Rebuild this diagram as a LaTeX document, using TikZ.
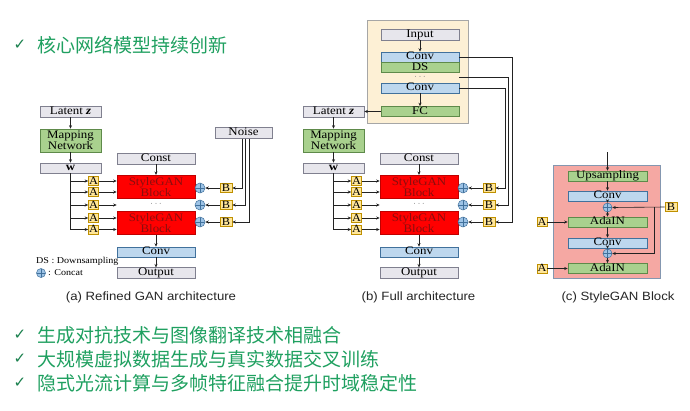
\documentclass[tikz,border=0pt]{standalone}
\usepackage{fontspec}
\setmainfont{Liberation Serif}
\newfontfamily\boxfont[FakeStretch=1.12]{Liberation Serif}
\newfontfamily\capfont[FakeStretch=1.1]{Liberation Sans}
\newfontfamily\cjkfont{Noto Sans CJK SC}
\newfontfamily\symfont{DejaVu Sans}
\usetikzlibrary{arrows.meta}
\definecolor{graybox}{HTML}{E7E6EC}
\definecolor{grayline}{HTML}{80808F}
\definecolor{greenbox}{HTML}{A9D18E}
\definecolor{greenline}{HTML}{5E8A4A}
\definecolor{bluebox}{HTML}{BDD7EE}
\definecolor{blueline}{HTML}{41719C}
\definecolor{redtext}{HTML}{8A0E0E}
\definecolor{redline}{HTML}{C00000}
\definecolor{yellowbox}{HTML}{FFE699}
\definecolor{yellowline}{HTML}{BF9000}
\definecolor{concatfill}{HTML}{9DC3E6}
\definecolor{containerfill}{HTML}{FDF0D5}
\definecolor{containerline}{HTML}{A6A6A6}
\definecolor{pinkfill}{HTML}{F5A8A3}
\definecolor{pinkline}{HTML}{8497B0}
\definecolor{titlegreen}{HTML}{1FA060}
\definecolor{arrowc}{HTML}{222222}
\tikzset{
  basebox/.style={draw, line width=0.6pt, inner sep=0pt, font=\boxfont\fontsize{11.5}{11}\selectfont},
  onel/.style={text height=7pt, text depth=2pt},
  gbox/.style={basebox, onel, fill=graybox, draw=grayline},
  grbox/.style={basebox, onel, fill=greenbox, draw=greenline},
  bbox/.style={basebox, onel, fill=bluebox, draw=blueline},
  redbox/.style={basebox, fill=red, draw=redline, text=redtext, align=center},
  ybox/.style={basebox, onel, fill=yellowbox, draw=yellowline, minimum width=10pt, minimum height=9pt, text height=7pt, text depth=1pt, font=\boxfont\fontsize{11}{11}\selectfont},
  concat/.style={circle, draw=blueline, fill=concatfill, minimum size=10pt, inner sep=0pt, line width=0.5pt,
    path picture={\draw[blueline, line width=0.5pt] (path picture bounding box.north) -- (path picture bounding box.south) (path picture bounding box.west) -- (path picture bounding box.east);}},
  arr/.style={-{Stealth[length=3.5pt,width=3pt]}, line width=0.6pt, draw=arrowc},
  plain/.style={line width=0.6pt, draw=arrowc},
  capt/.style={font=\capfont\fontsize{12}{12}\selectfont, text=black!85},
  dotsn/.style={font=\boxfont\fontsize{8}{8}\selectfont, text=gray, inner sep=0pt},
  cjkline/.style={anchor=west, font=\cjkfont\fontsize{19}{19}\selectfont, text=titlegreen, inner sep=0pt},
  checkm/.style={font=\symfont\bfseries\fontsize{15}{15}\selectfont, text=titlegreen!80!black, inner sep=0pt},
  legendt/.style={anchor=west, inner sep=0pt, font=\boxfont\fontsize{9}{9}\selectfont}
}
\begin{document}
\begin{tikzpicture}[x=1pt,y=-1pt]
\path[fill=white, use as bounding box] (0,0) rectangle (690,410);

% title and bullets
\node[checkm] (ck0) at (20,45) {✓};
\node[cjkline] (t0) at (37,45) {核心网络模型持续创新};
\node[checkm] (ck1) at (20,335) {✓};
\node[cjkline] (t1) at (37,335) {生成对抗技术与图像翻译技术相融合};
\node[checkm] (ck2) at (20,359) {✓};
\node[cjkline] (t2) at (37,359) {大规模虚拟数据生成与真实数据交叉训练};
\node[checkm] (ck3) at (20,383) {✓};
\node[cjkline] (t3) at (37,383) {隐式光流计算与多帧特征融合提升时域稳定性};

% panels (a) and (b), shared part
\foreach \p/\dx in {a/0,b/263}{
\begin{scope}[xshift=\dx pt]
\node[gbox, minimum width=61pt, minimum height=11pt] (lz\p) at (70.5,111.5) {Latent \textbf{\textit{z}}};
\node[basebox, fill=greenbox, draw=greenline, minimum width=61pt, minimum height=23pt, align=center] (mn\p) at (70.5,140.5) {Mapping\\Network};
\node[gbox, minimum width=61pt, minimum height=10pt] (w\p) at (70.5,168) {\textbf{w}};
\node[gbox, minimum width=78pt, minimum height=11pt] (const\p) at (156,158.5) {Const};
\node[redbox, minimum width=78pt, minimum height=23.5pt] (ra\p) at (156,187) {StyleGAN\\Block};
\node[redbox, minimum width=78pt, minimum height=23.5pt] (rb\p) at (156,223) {StyleGAN\\Block};
\node[dotsn] (dots\p) at (156,205) {·\,·\,·};
\node[bbox, minimum width=78pt, minimum height=10pt] (conv\p) at (156,252) {Conv};
\node[gbox, minimum width=78pt, minimum height=10.5pt] (out\p) at (156,273) {Output};
\foreach \i/\y in {1/181,2/192,3/205,4/218,5/229.5}{
  \node[ybox] (A\p\i) at (93.5,\y) {A};
  \draw[arr] (w\p.south |- A\p\i) -- (A\p\i.west);
  \draw[arr] (A\p\i.east) -- (A\p\i.east -| ra\p.west);
}
\draw[plain] (w\p.south) -- (w\p.south |- A\p5);
\foreach \j/\y in {1/188,2/205,3/222}{
  \node[concat] (c\p\j) at (200,\y) {};
  \node[ybox, minimum width=12pt] (B\p\j) at (226,\y) {B};
  \draw[arr] (B\p\j.west) -- (c\p\j.east);
}
\draw[arr] (lz\p) -- (mn\p);
\draw[arr] (mn\p) -- (w\p);
\draw[arr] (const\p) -- (ra\p);
\draw[arr] (rb\p) -- (conv\p);
\draw[arr] (conv\p) -- (out\p);
\end{scope}
}

% panel (a) specific
\node[gbox, minimum width=57pt, minimum height=10.5pt] (noise) at (243.5,133) {Noise};
\draw[arr] ([xshift=-1.5pt]noise.south) |- (Ba1.east);
\draw[arr] ([xshift=2pt]noise.south) |- (Ba2.east);
\draw[arr] ([xshift=5.5pt]noise.south) |- (Ba3.east);
\node[legendt] (lg1) at (36,261) {DS : Downsampling};
\node[concat, minimum size=9pt] (lgc) at (41,273) {};
\node[legendt] (lg2) at (48,273) {: Concat};
\node[capt] (capa) at (151,297) {(a) Refined GAN architecture};

% panel (b) specific: encoder
\node[draw=containerline, fill=containerfill, line width=0.6pt, minimum width=101pt, minimum height=103pt, inner sep=0pt] (enc) at (417.5,71.5) {};
\node[gbox, minimum width=78pt, minimum height=11pt] (inp) at (420,34.5) {Input};
\node[bbox, minimum width=78pt, minimum height=10pt] (ec1) at (420,57) {Conv};
\node[grbox, minimum width=78pt, minimum height=10pt] (ds) at (420,67.5) {DS};
\node[dotsn] (edots) at (420,77.5) {·\,·\,·};
\node[bbox, minimum width=78pt, minimum height=10pt] (ec2) at (420,88) {Conv};
\node[grbox, minimum width=78pt, minimum height=10pt] (fc) at (420,111.5) {FC};
\draw[arr] (inp) -- (ec1);
\draw[arr] (ec2) -- (fc);
\draw[arr] (fc.west) -- (fc.west -| lzb.east);
\coordinate (k1) at (512,0);
\coordinate (k2) at (508.5,0);
\coordinate (k3) at (505,0);
\draw[arr] (ec1.east) -| (k1 |- Bb3.east) -- (Bb3.east);
\draw[arr] (ec1.east |- edots) -| (k2 |- Bb2.east) -- (Bb2.east);
\draw[arr] (ec2.east) -| (k3 |- Bb1.east) -- (Bb1.east);
\node[capt] (capb) at (418.5,297) {(b) Full architecture};

% panel (c)
\node[draw=pinkline, fill=pinkfill, line width=0.6pt, minimum width=107pt, minimum height=113pt, inner sep=0pt] (blk) at (606.5,221.5) {};
\node[grbox, minimum width=79pt, minimum height=10pt] (up) at (607.5,176) {Upsampling};
\node[bbox, minimum width=79pt, minimum height=10pt] (cc1) at (607.5,196) {Conv};
\node[concat, minimum size=9pt] (cp1) at (607.5,207.5) {};
\node[grbox, minimum width=79pt, minimum height=10pt] (ad1) at (607.5,222) {AdaIN};
\node[bbox, minimum width=79pt, minimum height=10pt] (cc2) at (607.5,243) {Conv};
\node[concat, minimum size=9pt] (cp2) at (607.5,253.5) {};
\node[grbox, minimum width=79pt, minimum height=10pt] (ad2) at (607.5,268.5) {AdaIN};
\node[ybox, minimum width=12pt] (Bc) at (671,207) {B};
\node[ybox] (Ac1) at (542,222) {A};
\node[ybox] (Ac2) at (542,268.5) {A};
\coordinate (topin) at (607.5,152);
\coordinate (bj) at (654,207);
\draw[arr] (topin) -- (up);
\draw[arr] (up) -- (cc1);
\draw[arr] (cc1) -- (cp1);
\draw[arr] (cp1) -- (ad1);
\draw[arr] (ad1) -- (cc2);
\draw[arr] (cc2) -- (cp2);
\draw[arr] (cp2) -- (ad2);
\draw[arr] (Bc.west) -- (cp1.east);
\draw[arr] (bj) |- (cp2.east);
\draw[arr] (Ac1) -- (ad1);
\draw[arr] (Ac2) -- (ad2);
\node[capt] (capc) at (618,297) {(c) StyleGAN Block};
\end{tikzpicture}
\end{document}
